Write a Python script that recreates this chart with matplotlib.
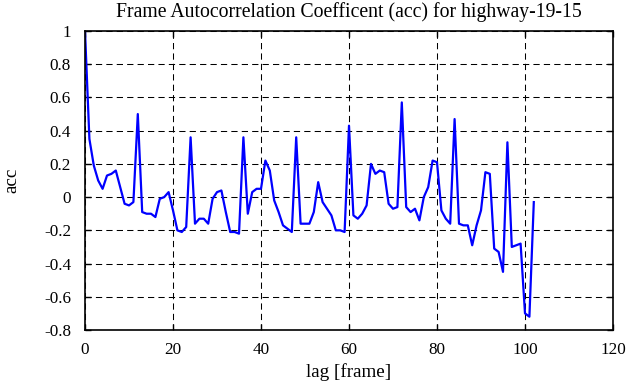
import numpy as np
import matplotlib
matplotlib.use("Agg")
import matplotlib.pyplot as plt

# autocorrelation per lag
lags = np.arange(0, 103)
acc = [
    1.00, 0.35, 0.19, 0.10, 0.05, 0.13, 0.14, 0.16, 0.06, -0.04,
    -0.05, -0.03, 0.50, -0.09, -0.10, -0.10, -0.12, -0.01, 0.00, 0.03,
    -0.08, -0.20, -0.21, -0.18, 0.36, -0.16, -0.13, -0.13, -0.16, -0.01,
    0.03, 0.04, -0.09, -0.21, -0.21, -0.22, 0.36, -0.10, 0.03, 0.05,
    0.05, 0.22, 0.16, -0.02, -0.09, -0.17, -0.19, -0.21, 0.36, -0.16,
    -0.16, -0.16, -0.09, 0.09, -0.03, -0.07, -0.11, -0.20, -0.20, -0.21,
    0.43, -0.11, -0.13, -0.10, -0.05, 0.20, 0.14, 0.16, 0.15, -0.04,
    -0.07, -0.06, 0.57, -0.06, -0.09, -0.07, -0.14, 0.00, 0.06, 0.22,
    0.21, -0.08, -0.13, -0.16, 0.47, -0.16, -0.17, -0.17, -0.29, -0.17,
    -0.08, 0.15, 0.14, -0.31, -0.33, -0.45, 0.33, -0.30, -0.29, -0.28,
    -0.70, -0.72, -0.03,
]
xticks = [0, 20, 40, 60, 80, 100, 120]
yticks = [-0.8, -0.6, -0.4, -0.2, 0, 0.2, 0.4, 0.6, 0.8, 1]

plt.rcParams['font.family'] = ['Liberation Serif', 'DejaVu Serif']
plt.rcParams['font.size'] = 13.7
plt.rcParams['axes.unicode_minus'] = False

fig = plt.figure(figsize=(6.41, 3.87), dpi=100)
ax = fig.add_axes([85 / 641, 1 - 330 / 387, 528 / 641, 299 / 387])

ax.plot(lags, acc, color=(0, 0, 1), lw=1.6)

ax.set_xlim(0, 120)
ax.set_ylim(-0.8, 1)
ax.set_xticks(xticks)
ax.set_yticks(yticks)
ax.set_yticklabels(['%g' % v for v in yticks])
ax.grid(True, color='black', lw=0.75, linestyle=(0, (6, 4)))
ax.tick_params(direction='in', top=True, right=True, length=4.5, width=1,
               labelsize=12.3)
ax.tick_params(axis='y', pad=10)
ax.tick_params(axis='x', pad=8.5)
for s in ax.spines.values():
    s.set_linewidth(1.2)

ax.set_title('Frame Autocorrelation Coefficent (acc) for highway-19-15',
             fontsize=14.2, pad=10)
ax.set_xlabel('lag [frame]', labelpad=4)
ax.set_ylabel('acc', labelpad=17)

fig.savefig('out.png', dpi=100)
